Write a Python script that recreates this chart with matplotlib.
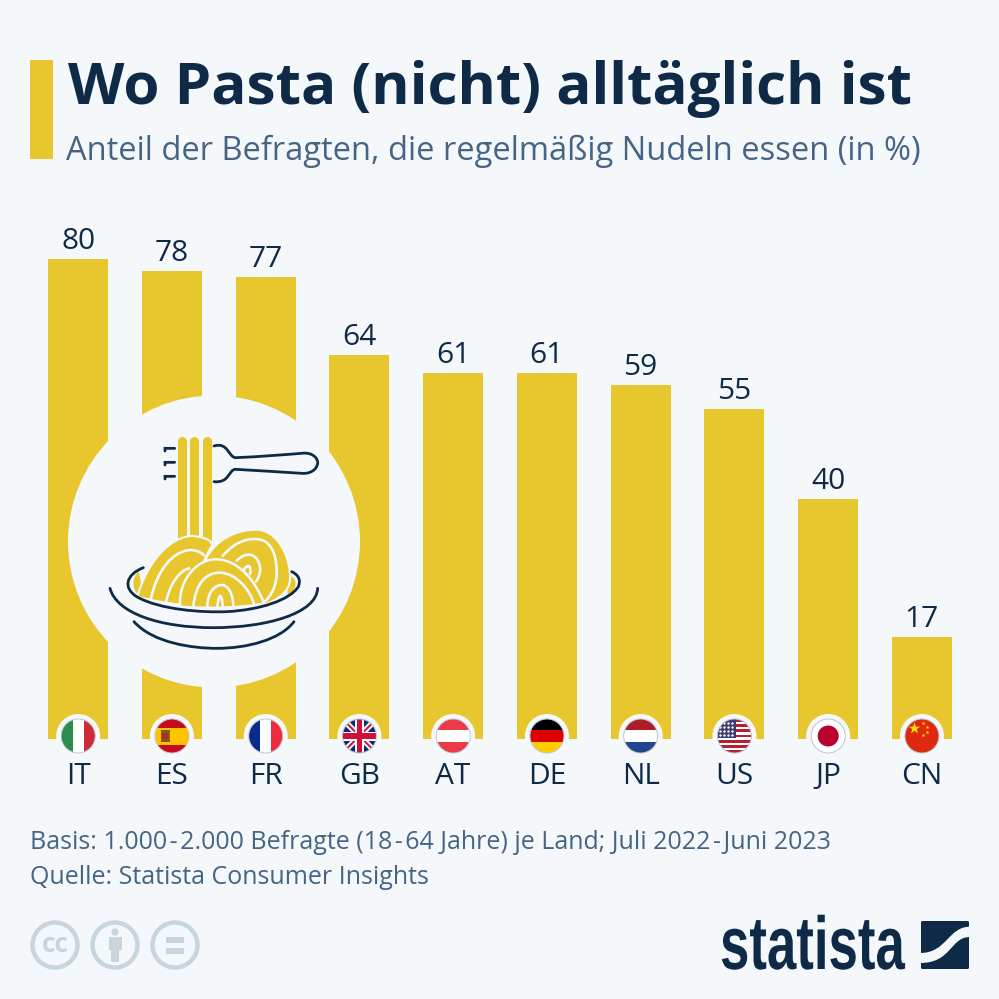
import matplotlib
matplotlib.use('Agg')
import matplotlib.pyplot as plt
from matplotlib.patches import Circle, Rectangle, PathPatch, FancyBboxPatch
from matplotlib.path import Path
from matplotlib.text import Text
from matplotlib.textpath import TextPath
from matplotlib.transforms import Affine2D
from matplotlib.colors import to_rgba

countries = ['IT', 'ES', 'FR', 'GB', 'AT', 'DE', 'NL', 'US', 'JP', 'CN']
values = [80, 78, 77, 64, 61, 61, 59, 55, 40, 17]
title = 'Wo Pasta (nicht) alltäglich ist'
subtitle = 'Anteil der Befragten, die regelmäßig Nudeln essen (in %)'
footer = ['Basis: 1.000\u200a-\u200a2.000 Befragte (18\u200a-\u200a64 Jahre) je Land; Juli 2022\u200a-\u200aJuni 2023',
          'Quelle: Statista Consumer Insights']

BG = '#F4F8FB'; YEL = '#E8C62D'; NAVY = '#0F2A47'; SUB = '#466484'; GREY = '#C9D5DD'
plt.rcParams['font.family'] = ['Open Sans', 'DejaVu Sans']

S = 999
fig = plt.figure(figsize=(9.99, 9.99), dpi=100, facecolor=BG)

def axpx(l, t, r, b, **kw):
    return fig.add_axes([l / S, 1 - b / S, (r - l) / S, (b - t) / S], **kw)

# bar chart: 6 px per percentage point, baseline at y=739
ax = axpx(31.2, 199, 968.8, 739, zorder=1)
ax.set_facecolor('none')
ax.bar(range(len(values)), values, width=0.64, color=YEL, linewidth=0)
ax.set_xlim(-0.5, 9.5); ax.set_ylim(0, 90)
for s in ax.spines.values():
    s.set_visible(False)
ax.set_yticks([])
ax.set_xticks(range(len(countries)), countries, fontsize=21.5, color=NAVY)
ax.tick_params(axis='x', length=0, pad=16.3)
for i, v in enumerate(values):
    ax.annotate(str(v), (i, v), xytext=(0, 7.2), textcoords='offset points', ha='center',
                va='baseline', fontsize=21.5, color=NAVY)

# overlay in pixel coordinates
o = fig.add_axes([0, 0, 1, 1], zorder=2)
o.set_xlim(0, S); o.set_ylim(S, 0); o.axis('off')
o.patch.set_alpha(0)

o.add_patch(Rectangle((30, 60), 23, 99, color=YEL, lw=0))
o.text(68, 104, title, fontsize=42, fontweight='bold', color=NAVY, va='baseline', ha='left')
o.text(66, 160, subtitle, fontsize=23.5, color=SUB, va='baseline', ha='left')
o.text(30, 849, footer[0], fontsize=18, color=SUB, va='baseline', ha='left')
o.text(30, 884, footer[1], fontsize=18, color=SUB, va='baseline', ha='left')

# ---- pasta icon
o.add_patch(Circle((214, 541.5), 146, color=BG, lw=0, zorder=3))

def Z(p):
    return (60 + p[0] / 3, 400 + p[1] / 3)

def curve(pts, closed=False):
    """pts: start, then triples of cubic control points (zoom coordinates)."""
    verts = [Z(p) for p in pts]
    codes = [Path.MOVETO] + [Path.CURVE4] * (len(pts) - 1)
    if closed:
        verts.append(verts[0]); codes.append(Path.CLOSEPOLY)
    return Path(verts, codes)

def stroke(pts, color=NAVY, lw=2.0, z=6):
    o.add_patch(PathPatch(curve(pts), fc='none', ec=color, lw=lw, capstyle='round', zorder=z))

def blob(pts, z=4, ec=None, lw=0):
    o.add_patch(PathPatch(curve(pts, True), fc=YEL, ec=ec if ec else 'none', lw=lw, zorder=z))

for x in (365, 403, 441):
    x0, y0 = Z((x, 122)); x1, y1 = Z((x, 420))
    o.plot([x0, x1], [y0, y1], color=YEL, lw=6.5, solid_capstyle='round', zorder=4)

# side bits inside bowl
blob([(235, 515), (215, 535), (215, 565), (235, 585), (245, 570), (245, 540), (235, 515)], z=4)
blob([(695, 530), (712, 540), (712, 565), (685, 590), (680, 570), (680, 550), (695, 530)], z=4)
# right mound
blob([(438, 475), (480, 400), (560, 385), (600, 390), (660, 400), (692, 480), (690, 535),
      (690, 565), (670, 590), (620, 612), (560, 615), (500, 615), (438, 475)], z=4, ec=BG, lw=1.5)
# left mound
blob([(232, 590), (270, 460), (350, 405), (400, 408), (440, 412), (460, 425), (455, 438),
      (430, 480), (400, 560), (370, 615), (320, 610), (270, 600), (232, 590)], z=5, ec=BG, lw=1.5)
# centre mound
blob([(360, 620), (355, 530), (420, 475), (470, 478), (540, 480), (590, 550), (612, 610),
      (560, 622), (460, 628), (360, 620)], z=6, ec=BG, lw=1.8)
# white strands
for pts, z in [
    ([(272, 600), (290, 510), (340, 450), (395, 450), (412, 452), (425, 458), (432, 466)], 5.5),
    ([(318, 606), (330, 550), (360, 510), (388, 505)], 5.5),
    ([(488, 468), (530, 418), (575, 412), (605, 420), (640, 430), (652, 480), (650, 525), (648, 560), (632, 590), (613, 606)], 4.5),
    ([(530, 482), (560, 452), (592, 460), (600, 500), (602, 520), (595, 535), (588, 545)], 4.5),
    ([(550, 512), (562, 490), (576, 495), (570, 522)], 4.5),
    ([(400, 622), (405, 550), (440, 517), (480, 518), (530, 520), (570, 570), (582, 612)], 6.5),
    ([(442, 622), (442, 570), (470, 553), (488, 555), (515, 562), (520, 600), (520, 622)], 6.5),
    ([(472, 622), (474, 600), (478, 588), (480, 588), (486, 590), (488, 605), (488, 622)], 6.5),
]:
    stroke(pts, color=BG, lw=1.9, z=z)

# bowl
stroke([(250, 503), (195, 525), (190, 565), (230, 590), (300, 630), (430, 638), (500, 635),
        (600, 630), (690, 600), (715, 560), (725, 535), (710, 522), (695, 515)], z=7)
stroke([(150, 565), (170, 640), (300, 683), (460, 683), (620, 683), (770, 640), (773, 565)], z=7)
stroke([(222, 665), (280, 730), (400, 745), (470, 745), (560, 745), (660, 720), (702, 665)], z=7)
# fork
stroke([(462, 138), (505, 125), (505, 172), (527, 173), (600, 170), (660, 165), (725, 160),
        (760, 155), (775, 178), (773, 190), (770, 210), (750, 222), (725, 220), (660, 216), (600, 212),
        (527, 208), (505, 208), (510, 250), (462, 245)], z=7)
for y in (145, 187, 229):
    stroke([(344, y), (330, y), (322, y), (315, y), (315, y + 3), (315, y + 6), (315, y + 8)], z=7)

# ---- flags
def flag_clip(cx, cy, r=17):
    return Circle((cx, cy), r, transform=o.transData)

def rect(cx, cy, x0, y0, w, h, c, z=9):
    p = Rectangle((cx + x0, cy + y0), w, h, fc=c, ec='none', zorder=z)
    o.add_patch(p); p.set_clip_path(flag_clip(cx, cy))
    return p

def hbands(cx, cy, cols):
    h = 34 / len(cols)
    for k, c in enumerate(cols):
        rect(cx, cy, -17, -17 + k * h, 34, h + 0.3, c)

def vbands(cx, cy, cols):
    w = 34 / len(cols)
    for k, c in enumerate(cols):
        rect(cx, cy, -17 + k * w, -17, w + 0.3, 34, c)

def clipped_line(cx, cy, x0, y0, x1, y1, c, lw, z=10):
    ln, = o.plot([cx + x0, cx + x1], [cy + y0, cy + y1], color=c, lw=lw, zorder=z, solid_capstyle='butt')
    ln.set_clip_path(flag_clip(cx, cy))

def it(cx, cy): vbands(cx, cy, ['#2C8C4B', '#FFFFFF', '#CE2B37'])
def fr(cx, cy): vbands(cx, cy, ['#0A2A8C', '#FFFFFF', '#EE2B3C'])
def at(cx, cy): hbands(cx, cy, ['#EC3A46', '#FFFFFF', '#EC3A46'])
def de(cx, cy): hbands(cx, cy, ['#000000', '#DD0000', '#FFCC00'])
def nl(cx, cy): hbands(cx, cy, ['#AE1C28', '#FFFFFF', '#21468B'])
def es(cx, cy):
    hbands(cx, cy, ['#C60B1E', '#FFC400', '#FFC400', '#C60B1E'])
    rect(cx, cy, -11, -6, 9, 12, '#8A5A1A', z=10)
    rect(cx, cy, -9.5, -3, 6, 6, '#A8321E', z=11)
def gb(cx, cy):
    rect(cx, cy, -17, -17, 34, 34, '#0B2A6E')
    for a, b in [((-17, -17), (17, 17)), ((-17, 17), (17, -17))]:
        clipped_line(cx, cy, *a, *b, '#FFFFFF', 4.2)
        clipped_line(cx, cy, *a, *b, '#D0103A', 1.4, z=10.5)
    rect(cx, cy, -17, -4.5, 34, 9, '#FFFFFF', z=11)
    rect(cx, cy, -4.5, -17, 9, 34, '#FFFFFF', z=11)
    rect(cx, cy, -17, -2.7, 34, 5.4, '#D0103A', z=12)
    rect(cx, cy, -2.7, -17, 5.4, 34, '#D0103A', z=12)
def us(cx, cy):
    hbands(cx, cy, ['#B22234', '#FFFFFF'] * 6 + ['#B22234'])
    rect(cx, cy, -17, -17, 19, 18.5, '#3C3B6E', z=10)
    xs = [cx + dx for dx in (-14, -10, -6, -2) for _ in (0, 1, 2, 3)]
    ys = [cy + dy for _ in range(4) for dy in (-13, -9, -5, -1)]
    sc = o.scatter(xs, ys, s=3, c='white', linewidths=0, zorder=11)
    sc.set_clip_path(flag_clip(cx, cy))
def jp(cx, cy):
    rect(cx, cy, -17, -17, 34, 34, '#FFFFFF')
    o.add_patch(Circle((cx, cy), 10.5, fc='#BC002D', ec='none', zorder=10))
def cn(cx, cy):
    rect(cx, cy, -17, -17, 34, 34, '#DE2910')
    o.scatter([cx - 7.5], [cy - 8], s=75, marker='*', c='#FFDE00', linewidths=0, zorder=10)
    o.scatter([cx + 1, cx + 5, cx + 5, cx + 1], [cy - 13, cy - 9, cy - 4, cy - 1], s=9, marker='*',
              c='#FFDE00', linewidths=0, zorder=10)

flags = {'IT': it, 'ES': es, 'FR': fr, 'GB': gb, 'AT': at, 'DE': de, 'NL': nl, 'US': us, 'JP': jp, 'CN': cn}
cxs = [78.2 + k * 93.75 for k in range(10)]
for cx, c in zip(cxs, countries):
    o.add_patch(Circle((cx, 736), 22, fc=BG, ec='none', zorder=8))
    flags[c](cx, 736)
    o.add_patch(Circle((cx, 736), 17, fc='none', ec='#BFC5CC', lw=0.7, zorder=13))

# ---- licence icons
for cx in (55, 115, 175):
    o.add_patch(Circle((cx, 945), 22.5, fc='none', ec=GREY, lw=3.2))
o.text(55, 944, 'cc', fontsize=19, fontweight='bold', color=GREY, ha='center', va='center')
o.add_patch(Circle((115, 932), 3.6, fc=GREY, ec='none'))
o.add_patch(Rectangle((108.5, 937), 13, 13, fc=GREY, ec='none'))
o.add_patch(Rectangle((111, 948), 8, 14, fc=GREY, ec='none'))
o.add_patch(Rectangle((166, 937), 18, 5.5, fc=GREY, ec='none'))
o.add_patch(Rectangle((166, 948), 18, 5.5, fc=GREY, ec='none'))

# ---- logo: a real text artist, drawn taller than its font to give the condensed look
class StretchedText(Text):
    stretch = 1.42
    def draw(self, renderer):
        fp = self.get_fontproperties()
        size = fp.get_size_in_points() * self.get_figure().dpi / 72
        tp = TextPath((0, 0), self.get_text(), size=size, prop=fp)
        x, y = self.get_transform().transform(self.get_position())
        gc = renderer.new_gc()
        gc.set_linewidth(0)
        renderer.draw_path(gc, tp, Affine2D().scale(1, self.stretch).translate(x, y),
                           rgbFace=to_rgba(self.get_color()))
        gc.restore()

logo = StretchedText(720, 969, 'statista', fontsize=38, fontweight='bold', color=NAVY,
                     fontfamily='Liberation Sans', ha='left', va='baseline', transform=o.transData)
o.add_artist(logo)
o.add_patch(FancyBboxPatch((921, 921), 48, 48, boxstyle='round,pad=0,rounding_size=1.5', fc=NAVY, ec='none'))
verts = [(970, 926.7), (948, 926.7), (947, 953), (920, 953), (920, 963), (952, 963), (950, 937), (970, 937), (970, 926.7)]
codes = [Path.MOVETO] + [Path.CURVE4] * 3 + [Path.LINETO] + [Path.CURVE4] * 3 + [Path.CLOSEPOLY]
o.add_patch(PathPatch(Path(verts, codes), fc=BG, ec='none'))

fig.savefig('out.png', dpi=100, facecolor=BG)
